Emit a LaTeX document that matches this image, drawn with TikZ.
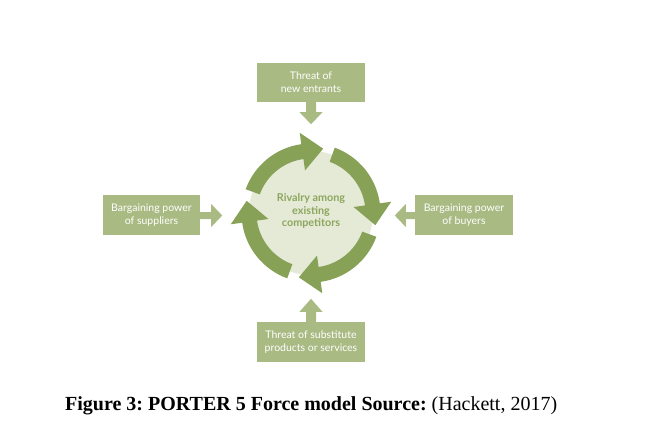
\documentclass[tikz,border=0pt]{standalone}
\usepackage{fontspec}
\usetikzlibrary{calc}
\newfontfamily\boxfont{Lato}
\newfontfamily\capfont{Liberation Serif}
\definecolor{sage}{RGB}{169,186,131}
\definecolor{ringgreen}{RGB}{135,161,86}
\definecolor{innerfill}{RGB}{229,234,215}
\definecolor{rivaltext}{RGB}{140,166,92}
\tikzset{
  forcebox/.style={fill=sage, draw=none, inner sep=0pt, minimum width=108pt, minimum height=40pt,
    align=center, text=white, font=\boxfont\fontsize{10.5}{13}\selectfont},
  blockarrow/.style={fill=sage, draw=none},
  ringarrow/.style={fill=ringgreen, draw=none},
}
\begin{document}
\begin{tikzpicture}[x=1pt, y=-1pt]
\useasboundingbox (0,0) rectangle (668,428);
\fill[white] (0,0) rectangle (668,428);

% central circle
\fill[innerfill] (311,213) circle[radius=62];
\node[align=center, text=rivaltext, font=\boxfont\bfseries\fontsize{10.8}{12.8}\selectfont] (rivalry) at (311,211)
  {Rivalry among\\existing\\competitors};

% ring of four curved arrows
\begin{scope}[shift={(311,213)}, y=1pt]
  \foreach \s in {160,70,-20,-110} {
    \pgfmathsetmacro{\e}{\s-62}
    \fill[ringarrow] (\s:69.5) arc[start angle=\s, end angle=\e, radius=69.5]
      -- (\e:81) -- ($(\e:62)+({\e-90}:21)$) -- (\e:43) -- (\e:54.5)
      arc[start angle=\e, end angle=\s, radius=54.5] -- cycle;
  }
\end{scope}

% force boxes
\node[forcebox, minimum width=108pt, minimum height=39pt] (entrants) at (311,82.5) {Threat of\\new entrants};
\node[forcebox, minimum width=97pt] (suppliers) at (151.5,215) {Bargaining power\\of suppliers};
\node[forcebox, minimum width=98pt] (buyers) at (464,215) {Bargaining power\\of buyers};
\node[forcebox] (substitutes) at (311,342) {Threat of substitute\\products or services};

% block arrows
\fill[blockarrow] ($(entrants.south)+(-5,0)$) -- ++(0,10) -- ++(-6.5,0) -- ++(11.5,12) -- ++(11.5,-12) -- ++(-6.5,0) -- ++(0,-10) -- cycle;
\fill[blockarrow] ($(substitutes.north)+(-5,0)$) -- ++(0,-10) -- ++(-6.5,0) -- ++(11.5,-13) -- ++(11.5,13) -- ++(-6.5,0) -- ++(0,10) -- cycle;
\fill[blockarrow] ($(suppliers.east)+(0,-3)$) -- ++(11,0) -- ++(0,-8) -- ++(11,11.5) -- ++(-11,11.5) -- ++(0,-8) -- ++(-11,0) -- cycle;
\fill[blockarrow] ($(buyers.west)+(0,-3)$) -- ++(-9,0) -- ++(0,-8) -- ++(-11,11.5) -- ++(11,11.5) -- ++(0,-8) -- ++(9,0) -- cycle;

% caption
\node[anchor=base west, inner sep=0pt, font=\capfont\fontsize{20}{24}\selectfont] (caption) at (65,410)
  {\frenchspacing\textbf{Figure 3: PORTER 5 Force model Source:} (Hackett, 2017)};
\end{tikzpicture}
\end{document}
